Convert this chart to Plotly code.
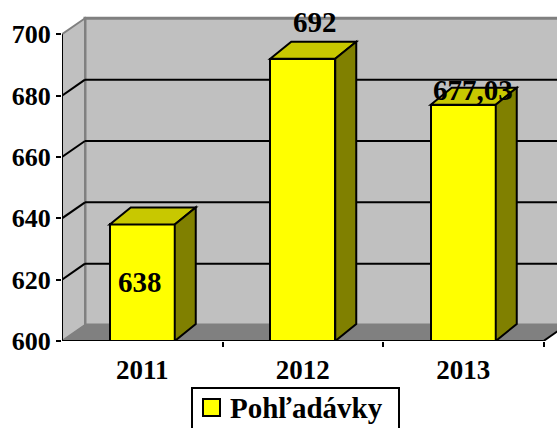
import plotly.graph_objects as go

# ---- data ----
categories = ["2011", "2012", "2013"]
values = [638, 692, 677.03]
value_labels = ["638", "692", "677,03"]
series_name = "Pohľadávky"
y_ticks = [600, 620, 640, 660, 680, 700]

# ---- geometry (pixels -> axis units) ----
W, H = 557, 428
PL, PR, PB = 62, 557, 341          # plot-area left, right, bottom (px)
PX_PER_CAT = 160.5
PX_PER_UNIT = 3.067
y_min, y_max_tick = 600, 700
x_range = [-0.5, -0.5 + (PR - PL) / PX_PER_CAT]
y_range = [y_min, y_min + PB / PX_PER_UNIT]

dxw, dyw = 23 / PX_PER_CAT, 16 / PX_PER_UNIT   # wall depth
dxb, dyb = 21 / PX_PER_CAT, 17 / PX_PER_UNIT   # bar depth
bw = 65 / PX_PER_CAT

FONT = "Liberation Serif, Times New Roman, serif"
GRAY_WALL = "#c0c0c0"
GRAY_DARK = "#808080"
YEL = "#ffff00"
YEL_TOP = "#c8c800"
YEL_SIDE = "#808000"

xs = list(range(len(categories)))
x_end = xs[-1] + 0.5
x_start = -0.5

fig = go.Figure()
fig.add_trace(go.Bar(
    x=xs, y=values, width=bw, marker=dict(color=YEL, line=dict(color="black", width=2)),
    showlegend=False, hoverinfo="skip"))

shapes = []
# back wall
shapes.append(dict(type="rect", xref="x", yref="y", layer="below",
                   x0=x_start + dxw, x1=x_range[1] + 1, y0=y_min + dyw, y1=y_max_tick + dyw,
                   fillcolor=GRAY_WALL, line=dict(color=GRAY_DARK, width=3)))
# left wall
shapes.append(dict(type="path", xref="x", yref="y", layer="below",
                   path=f"M{x_start},{y_min} L{x_start},{y_max_tick} L{x_start+dxw},{y_max_tick+dyw} "
                        f"L{x_start+dxw},{y_min+dyw} Z",
                   fillcolor=GRAY_WALL, line=dict(color=GRAY_DARK, width=2)))
# floor
shapes.append(dict(type="path", xref="x", yref="y", layer="below",
                   path=f"M{x_start},{y_min} L{x_end},{y_min} L{x_end+dxw},{y_min+dyw} "
                        f"L{x_start+dxw},{y_min+dyw} Z",
                   fillcolor=GRAY_DARK, line=dict(color=GRAY_DARK, width=1)))
# gridlines
for t in y_ticks[1:-1]:
    shapes.append(dict(type="line", xref="x", yref="y", layer="below",
                       x0=x_start + dxw, x1=x_range[1] + 1, y0=t + dyw, y1=t + dyw,
                       line=dict(color="black", width=2)))
    shapes.append(dict(type="line", xref="x", yref="y", layer="below",
                       x0=x_start, x1=x_start + dxw, y0=t, y1=t + dyw,
                       line=dict(color="black", width=2)))
# bar top and side faces
for x, v in zip(xs, values):
    l, r = x - bw / 2, x + bw / 2
    shapes.append(dict(type="path", xref="x", yref="y", layer="above",
                       path=f"M{l},{v} L{l+dxb},{v+dyb} L{r+dxb},{v+dyb} L{r},{v} Z",
                       fillcolor=YEL_TOP, line=dict(color="black", width=2)))
    shapes.append(dict(type="path", xref="x", yref="y", layer="above",
                       path=f"M{r},{y_min} L{r},{v} L{r+dxb},{v+dyb} L{r+dxb},{y_min+dyb} Z",
                       fillcolor=YEL_SIDE, line=dict(color="black", width=2)))
# axis lines
shapes.append(dict(type="line", xref="x", yref="y", layer="above",
                   x0=x_start, x1=x_start, y0=y_min, y1=y_max_tick, line=dict(color="black", width=2)))
shapes.append(dict(type="line", xref="x", yref="y", layer="above",
                   x0=x_start, x1=x_end, y0=y_min, y1=y_min, line=dict(color="black", width=2)))
shapes.append(dict(type="line", xref="x", yref="y", layer="above",
                   x0=x_end, x1=x_end + dxw, y0=y_min, y1=y_min + dyw, line=dict(color="black", width=2)))

# legend (manual, pixel positions converted to paper coords)
def px(xp):
    return (xp - PL) / (PR - PL)
def py(yp):
    return (PB - yp) / PB
shapes.append(dict(type="rect", xref="paper", yref="paper", layer="above",
                   x0=px(192), x1=px(399), y0=py(388), y1=py(445),
                   fillcolor="white", line=dict(color="black", width=2)))
shapes.append(dict(type="rect", xref="paper", yref="paper", layer="above",
                   x0=px(203), x1=px(220), y0=py(399), y1=py(416),
                   fillcolor=YEL, line=dict(color="black", width=2)))

annotations = [dict(xref="paper", yref="paper", x=px(228), y=py(408), xanchor="left", yanchor="middle",
                    text="<b>" + series_name + "</b>", showarrow=False,
                    font=dict(family=FONT, size=29, color="black"))]

# data labels
label_shift = [(-2, -58), (12, 37), (10, 15)]
for x, v, lab, (sx, sy) in zip(xs, values, value_labels, label_shift):
    annotations.append(dict(xref="x", yref="y", x=x, y=v, text="<b>" + lab + "</b>", showarrow=False,
                            xanchor="center", yanchor="middle", xshift=sx, yshift=sy,
                            font=dict(family=FONT, size=29, color="black")))

fig.update_layout(
    width=W, height=H, margin=dict(l=PL, r=W - PR, t=0, b=H - PB),
    paper_bgcolor="white", plot_bgcolor="white",
    shapes=shapes, annotations=annotations, showlegend=False, bargap=0,
    xaxis=dict(range=x_range, tickvals=xs, ticktext=["<b>" + c + "</b>" for c in categories],
               ticks="", showline=False, ticklabelstandoff=10,
               showgrid=False, zeroline=False, fixedrange=True,
               tickfont=dict(family=FONT, size=27, color="black"),
               minor=dict(tickvals=[x + 0.5 for x in xs], ticks="outside", ticklen=5,
                          tickwidth=2, tickcolor="black", showgrid=False)),
    yaxis=dict(range=y_range, tickvals=y_ticks, ticktext=["<b>%d</b>" % t for t in y_ticks],
               ticks="outside", ticklen=5, tickwidth=2,
               tickcolor="black", showline=False, showgrid=False, zeroline=False,
               tickfont=dict(family=FONT, size=26, color="black")),
)

fig.write_html("out.html", config={"displayModeBar": False},
               post_script="document.body.style.margin='0';")
